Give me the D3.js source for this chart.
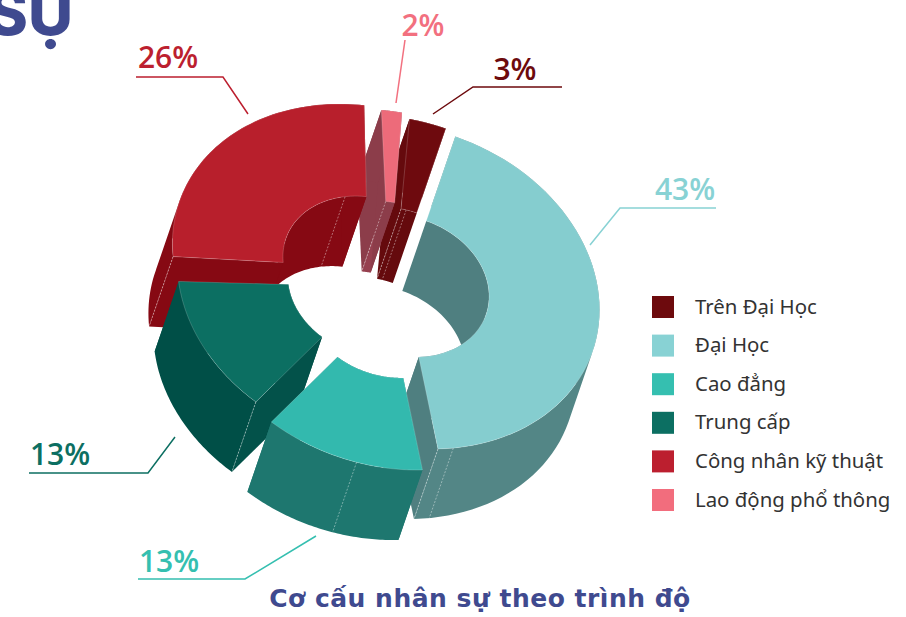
<!DOCTYPE html>
<html><head><meta charset="utf-8">
<style>html,body{margin:0;padding:0;background:#fff}svg{display:block}</style>
<script src="https://cdn.jsdelivr.net/npm/d3@7/dist/d3.min.js"></script>
</head><body><svg id="c" width="906" height="617"></svg>
<script>
// ---- data ----
const categories = ["Trên Đại Học","Đại Học","Cao đẳng","Trung cấp","Công nhân kỹ thuật","Lao động phổ thông"];
const shares = [3,43,13,13,26,2];
const topColors = ["#6e0a0e","#85cdcf","#33b9ae","#0c6f62","#b81f2c","#ed6b7a"];
const legendColors = ["#6d0a0d","#88d2d4","#35bfb0","#0c6f62","#bc1f2f","#f26d7d"];
const labelColors = ["#6d0a0d","#88d2d4","#35bfb0","#0c6f62","#bc1f2f","#f2707f"];
const outerWallColors = ["#650a0d","#538686","#1e776f","#004f47","#860913","#8c3d4a"];
const sideWallColors = ["#650a0d","#4f7f80","#1e776f","#03524a","#860913","#8c3d4a"];
const innerWallColors = ["#650a0d","#4f7f80","#1e776f","#03524a","#860913","#96404f"];
// ---- projection of the tilted ring ----
const axisX=[195,36], axisY=[15,-159], extrude=[-24,70], innerR=0.435;
const apexes=[[394.5,278],[404,286],[388.5,307],[373,287],[368,267],[389,272]];
const twistDeg=[0,0,0,0,1.7,0];
const spanScale=[1,1,1,1,1,0.84];
const paintOrder=[1,0,5,4,3,2];
// seams: [slice index, radius, degrees]
const seams=[[1,1,165.6],[1,1,161],[2,1,185],[3,1,212.4],[4,1,260.9],[4,innerR,340],[5,innerR,353.4],[0,innerR,0],[0,innerR,3.5]];
// ---- annotation layout ----
const leaders=[
 {i:4,pts:[[136,77],[223,77],[248,114]],tx:168,ty:68},
 {i:5,pts:[[405,40],[396,103]],tx:423,ty:36},
 {i:0,pts:[[562,87],[473,87],[433,114]],tx:515,ty:80},
 {i:1,pts:[[590,245],[620,208],[716,208]],tx:685,ty:200},
 {i:3,pts:[[29,473],[148,473],[175,437]],tx:60,ty:465},
 {i:2,pts:[[138,579],[245,579],[316,536]],tx:169,ty:572}
];
const svg=d3.select("#c");
const arcs=d3.pie().sort(null).startAngle(0).endAngle(2*Math.PI)(shares);
const line=d3.line();
const color=d3.scaleOrdinal().domain(categories).range(legendColors);
const proj=(i,r,a)=>[apexes[i][0]+r*(Math.sin(a)*axisX[0]+Math.cos(a)*axisY[0]),
                     apexes[i][1]+r*(Math.sin(a)*axisX[1]+Math.cos(a)*axisY[1])];
const down=p=>[p[0]+extrude[0],p[1]+extrude[1]];
const arcPts=(i,r,a0,a1)=>d3.range(0,61).map(k=>proj(i,r,a0+(a1-a0)*k/60));
// swept wall: overlapping rings, all wound the same way, so folds stay filled and no seams show
const sweep=pts=>d3.range(0,pts.length-2).map(k=>{
  const p=pts[k],q=pts[k+2];
  const ring=[p,pts[k+1],q,down(q),down(pts[k+1]),down(p)];
  return line(d3.polygonArea(ring)<0?ring.reverse():ring)+"Z";
}).join("");
const faces=[];
paintOrder.forEach(i=>{
  const mid=(arcs[i].startAngle+arcs[i].endAngle)/2+twistDeg[i]*Math.PI/180;
  const half=(arcs[i].endAngle-arcs[i].startAngle)/2*spanScale[i];
  const a0=mid-half,a1=mid+half;
  const outer=arcPts(i,1,a0,a1), inner=arcPts(i,innerR,a0,a1);
  faces.push({path:sweep(inner),fill:innerWallColors[i]});
  faces.push({path:line([outer[0],inner[0],down(inner[0]),down(outer[0])])+"Z",fill:sideWallColors[i]});
  faces.push({path:line([outer[60],inner[60],down(inner[60]),down(outer[60])])+"Z",fill:sideWallColors[i]});
  faces.push({path:sweep(outer),fill:outerWallColors[i]});
  seams.filter(s=>s[0]===i).forEach(s=>{
    const p=proj(i,s[1],s[2]*Math.PI/180);
    faces.push({path:line([p,down(p)]),seam:true});
  });
  faces.push({path:line(outer.concat(inner.slice().reverse()))+"Z",fill:topColors[i],top:true});
});
svg.append("g").selectAll("path").data(faces).join("path")
  .attr("d",f=>f.path)
  .attr("fill",f=>f.seam?"none":f.fill)
  .attr("stroke",f=>f.seam?"rgba(255,255,255,.5)":(f.top?"rgba(255,255,255,.3)":"none"))
  .attr("stroke-width",f=>f.seam?0.8:0.6)
  .attr("stroke-dasharray",f=>f.seam?"2 1.5":null);
// leaders + percentage labels
const lab=svg.append("g");
lab.selectAll("path").data(leaders).join("path")
  .attr("d",l=>line(l.pts)).attr("fill","none")
  .attr("stroke",l=>labelColors[l.i]).attr("stroke-width",1.5);
lab.selectAll("text").data(leaders).join("text")
  .attr("x",l=>l.tx).attr("y",l=>l.ty).attr("text-anchor","middle")
  .attr("fill",l=>labelColors[l.i])
  .style("font","600 30px 'Open Sans'")
  .text(l=>shares[l.i]+"%");
// legend
const ly=d3.scalePoint().domain(categories).range([296,489]);
const lg=svg.append("g").selectAll("g").data(categories).join("g")
  .attr("transform",c=>`translate(652,${ly(c)})`);
lg.append("rect").attr("width",22).attr("height",22).attr("fill",c=>color(c));
lg.append("text").attr("x",43).attr("y",17.5).attr("fill","#333")
  .style("font","400 20.4px 'Noto Sans'").text(c=>c);
// title + cropped heading
svg.append("text").attr("x",480).attr("y",607).attr("text-anchor","middle")
  .attr("fill","#3f4a8f").style("font","700 25px 'DejaVu Sans'").style("letter-spacing","0.5px")
  .text("Cơ cấu nhân sự theo trình độ");
svg.append("text").attr("x",-13).attr("y",35).attr("fill","#3f4a8f")
  .style("font","800 62px Inter").text("SỰ");
</script></body></html>
